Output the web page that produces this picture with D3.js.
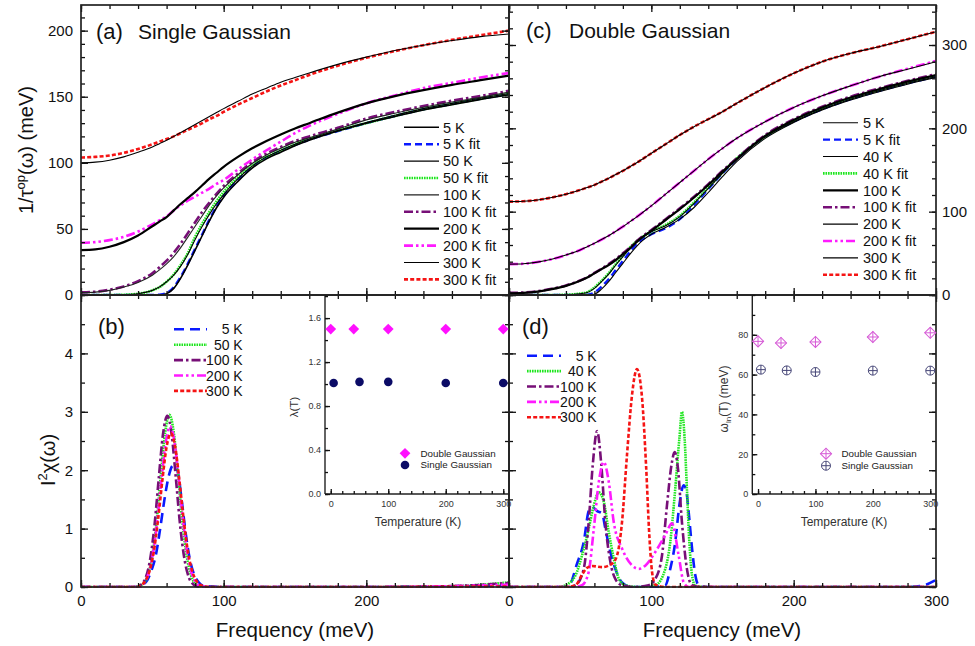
<!DOCTYPE html>
<html>
<head>
<meta charset="utf-8">
<script src="https://cdn.jsdelivr.net/npm/d3@7"></script>
<style>
    body { margin: 0; background: #fff; }
    svg { font-family: "Liberation Sans", Arial, Helvetica, sans-serif; }
</style>
</head>
<body>
<svg id="chart" width="975" height="646"></svg>
<script>
    // ---- data ----
    // (a)/(c): 1/tau_op(omega) on a common frequency grid (meV)
    const freqGrid = [0, 10, 20, 30, 40, 50, 55, 60, 65, 70, 75, 80, 85, 90, 95, 100, 110, 120, 130, 140, 150, 160, 180, 200, 220, 240, 260, 280, 300];

    const a5K = [0, 0, 0, 0, 0, 0, 0, 1, 5, 13, 23, 34, 45, 56, 66, 74, 86, 96, 103, 108, 113, 117, 124, 130, 135, 140, 144, 148, 151.5];
    const a5Kfit = [0, 0, 0, 0, 0, 0, 0.3, 1.5, 6, 14, 24, 35, 46, 57, 67, 75, 87, 97, 104, 109, 113.5, 117.5, 124, 130, 135.5, 140.5, 144.5, 148.5, 152];
    const a50K = [0, 0, 0, 0.2, 1, 3.5, 6, 10, 15, 22, 31, 42, 52, 61, 69, 76, 88, 97.5, 104.5, 109.5, 114, 118, 124.5, 130.5, 136, 141, 145, 149, 152.5];
    const a50Kfit = [0, 0, 0, 0.2, 1, 3.5, 6, 10, 15.5, 23, 32, 44, 54, 63, 71, 78, 89, 98, 104.5, 109.5, 114, 118, 124.5, 130, 135.5, 140.5, 144.5, 148.5, 152];
    const a100K = [1.8, 2.2, 3.5, 6, 9.5, 15, 19, 23.5, 29, 36, 44, 52, 60, 68, 75, 81, 91, 99.5, 106, 111, 115.5, 119, 125.5, 132.5, 137.5, 142, 146, 149.5, 153.5];
    const a100Kfit = [2, 2.5, 4, 6.5, 10.5, 16.5, 21, 26, 32, 39, 47, 55, 63, 70, 76.5, 82.5, 92, 100.5, 107, 112, 116.5, 120, 126.5, 133.5, 138.5, 143, 147, 150.5, 154.5];
    const a200K = [34, 34.5, 36.5, 40, 45, 52, 55.5, 59, 64, 69, 73.5, 78, 83, 88, 92.5, 97, 104.5, 111, 116.5, 121.5, 126, 130, 138, 145, 150.5, 155, 159, 162.5, 166];
    const a200Kfit = [39.5, 40, 41.5, 44, 48, 53.5, 56.5, 59.5, 64, 68, 71.5, 74.5, 77.5, 80.5, 84, 87, 95, 102.5, 109.5, 116, 122.5, 128, 137, 145, 151, 156.5, 160.5, 164.5, 168];
    const a300K = [100, 100.5, 102, 104.5, 108, 112, 114.5, 117, 120, 123, 126, 129, 132, 135, 138, 141, 146.5, 152, 156.5, 161, 164.5, 168, 174.5, 180, 185, 189, 192.5, 195.5, 197.5];
    const a300Kfit = [104, 104.5, 105.5, 107.5, 110.5, 114, 116, 118, 120, 122.5, 125, 127.5, 130, 133, 135.5, 138.5, 144, 149, 154, 158.5, 162.5, 166.5, 173.5, 179.5, 184.5, 189, 193, 196.5, 200];

    const c5K = [0, 0, 0, 0, 0, 0, 0, 1, 7, 16, 27, 38, 49, 59, 67, 73, 81, 91, 105, 123, 142, 160, 188, 207, 222, 234, 244, 253, 261];
    const c5Kfit = [0, 0, 0, 0, 0, 0, 0.5, 3, 10, 19, 30, 41, 52, 62, 68, 73, 80, 91, 108, 127, 146, 163, 190, 208, 223, 235, 245, 254, 262];
    const c40K = [0, 0, 0, 0, 0.3, 1.5, 3, 8, 16, 25, 36, 46, 56, 65, 71, 76, 83, 94, 110, 128, 146, 163, 190, 208, 223, 235, 245, 254, 262];
    const c40Kfit = [0, 0, 0, 0, 0.3, 1.8, 3.5, 9, 17, 26, 37, 47, 57, 65, 71, 76, 84, 95, 111, 129, 147, 164, 190, 209, 224, 236, 246, 255, 263];
    const c100K = [2, 2.5, 4, 7, 11, 17, 21, 26, 31, 36, 42, 49, 56, 64, 71, 77, 90, 103, 117, 132, 148, 163, 191, 210, 225, 237, 247, 256, 264];
    const c100Kfit = [2.5, 3, 4.5, 7.5, 11.5, 17.5, 21.5, 26.5, 31.5, 37, 43, 50, 57, 65, 72, 78, 91, 104, 118, 133, 149, 164, 192, 211, 226, 238, 248, 257, 265];
    const c200K = [37, 37.5, 39.5, 43, 48, 54, 58, 62, 66.5, 71, 76.5, 82, 88, 94, 100.5, 107, 121, 135, 149, 163, 176, 188, 208, 225, 239, 251, 262, 271, 280];
    const c200Kfit = [37, 37.5, 39.5, 43, 48, 54, 58, 62, 66.5, 71, 76.5, 82, 88, 94, 100.5, 107, 121, 135, 149, 163, 176, 188, 208, 225, 239, 251, 262, 271.5, 281];
    const c300K = [112, 112.5, 114, 117, 121, 126, 129, 132, 136, 140, 144.5, 149, 154, 159, 164.5, 170, 181, 192, 202, 211, 220, 230, 249, 266, 280, 290, 298, 307, 316];
    const c300Kfit = [112, 112.5, 114, 117, 121, 126, 129, 132, 136, 140, 144.5, 149, 154, 159, 164.5, 170, 181, 192, 202, 211, 220, 230, 249, 266, 280, 290, 298, 307, 316];

    // (b): single Gaussian I^2 chi(omega)
    const b5KFreq = [0, 40, 43.5, 46.5, 49.5, 52.5, 55.5, 58.5, 61.5, 64.5, 67.5, 70.5, 73.5, 76.5, 79.5, 82.5, 86, 100, 200, 300];
    const b5KVal = [0, 0, 0.04, 0.12, 0.29, 0.55, 1.0, 1.5, 1.9, 2.08, 2.0, 1.5, 0.9, 0.45, 0.2, 0.08, 0.02, 0, 0, 0.02];
    const b50KFreq = [0, 38, 41, 44, 47, 50, 53, 56, 59, 62, 65, 68, 71, 74, 77, 80, 83, 90, 200, 250, 275, 300];
    const b50KVal = [0, 0, 0.02, 0.06, 0.21, 0.54, 1.13, 1.93, 2.65, 2.95, 2.65, 1.93, 1.13, 0.54, 0.21, 0.06, 0.02, 0, 0, 0.01, 0.03, 0.08];
    const b100KFreq = [0, 39.5, 42.5, 45.5, 48.5, 51.5, 54.5, 57.5, 60.5, 63.5, 66.5, 69.5, 72.5, 75.5, 78.5, 81.5, 90, 200, 250, 275, 300];
    const b100KVal = [0, 0, 0.05, 0.17, 0.48, 1.05, 1.86, 2.62, 2.93, 2.62, 1.86, 1.05, 0.48, 0.17, 0.05, 0.01, 0, 0, 0.01, 0.03, 0.07];
    const b200KFreq = [0, 41.5, 44.5, 47.5, 50.5, 53.5, 56.5, 59.5, 62.5, 65.5, 68.5, 71.5, 74.5, 77.5, 80.5, 83.5, 90, 200, 250, 300];
    const b200KVal = [0, 0, 0.08, 0.24, 0.58, 1.14, 1.86, 2.49, 2.75, 2.49, 1.86, 1.14, 0.58, 0.24, 0.08, 0.02, 0, 0, 0.01, 0.04];
    const b300KFreq = [0, 39, 42, 45, 48, 51, 54, 57, 60, 63, 66, 69, 72, 75, 78, 81, 84, 90, 200, 300];
    const b300KVal = [0, 0, 0.03, 0.10, 0.27, 0.60, 1.15, 1.82, 2.40, 2.63, 2.40, 1.82, 1.15, 0.60, 0.27, 0.10, 0.03, 0, 0, 0.01];

    // (d): double Gaussian I^2 chi(omega)
    const d5KFreq = [0, 38, 42, 47.8, 52.5, 56, 58.4, 61.9, 65.4, 67.7, 71.2, 74.7, 79.4, 86.4, 100, 109.8, 113.3, 116.8, 119.7, 122.7, 124.3, 126.2, 128.6, 130.9, 133.3, 140, 280, 290, 300];
    const d5KVal = [0, 0, 0.02, 0.4, 0.77, 1.3, 1.37, 1.3, 1.26, 1.0, 0.6, 0.31, 0.08, 0, 0, 0.03, 0.31, 0.77, 1.4, 1.74, 1.68, 1.29, 0.66, 0.2, 0.03, 0, 0, 0.02, 0.12];
    const d40KFreq = [0, 35, 39.7, 46.7, 51.3, 56, 59.6, 63.1, 66.6, 70.1, 73.6, 77.2, 81.8, 91.2, 102.8, 109.8, 113.3, 116.8, 119.7, 121.5, 123.4, 125, 126.7, 128.6, 130.9, 140, 300];
    const d40KVal = [0, 0, 0.03, 0.2, 0.54, 1.0, 1.4, 1.62, 1.46, 0.94, 0.49, 0.14, 0.03, 0, 0.03, 0.31, 0.77, 1.68, 2.54, 3.0, 2.54, 1.68, 0.77, 0.2, 0.02, 0, 0];
    const d100KFreq = [0, 42, 46.7, 52.5, 56, 58.8, 61.9, 64.9, 67.7, 71.2, 74.7, 79.4, 88.8, 98.1, 102.8, 107.5, 111, 114.1, 116.4, 118.7, 121.5, 125, 128.6, 135, 300];
    const d100KVal = [0, 0, 0.03, 0.31, 1.11, 2.08, 2.67, 2.08, 1.11, 0.43, 0.14, 0.03, 0, 0.03, 0.14, 0.54, 1.4, 2.08, 2.31, 2.03, 1.11, 0.31, 0.03, 0, 0];
    const d200KFreq = [0, 46, 51.3, 56, 59.6, 63.1, 66.6, 70.1, 73.6, 79.4, 86.4, 91.2, 95.9, 102.8, 109.8, 114.5, 119.2, 122.7, 126.2, 135, 300];
    const d200KVal = [0, 0, 0.03, 0.26, 1.0, 1.8, 2.14, 1.8, 1.11, 0.66, 0.37, 0.31, 0.37, 0.6, 0.89, 1.09, 0.54, 0.08, 0, 0, 0];
    const d300KFreq = [0, 35, 39.7, 46.7, 51.3, 54.9, 58.4, 65.4, 72.4, 75.9, 79.4, 82.9, 86.4, 89.9, 93.5, 96.3, 98.6, 100.5, 102.8, 110, 300];
    const d300KVal = [0, 0, 0, 0.03, 0.21, 0.33, 0.36, 0.34, 0.40, 0.54, 1.11, 2.26, 3.28, 3.73, 3.23, 2.08, 0.88, 0.26, 0.04, 0, 0];

    // insets
    const tempDouble = [0, 40, 100, 200, 300];
    const tempSingle = [5, 50, 100, 200, 300];
    const lambdaDouble = [1.5, 1.5, 1.5, 1.5, 1.5];
    const lambdaSingle = [1.01, 1.02, 1.02, 1.01, 1.01];
    const omegaDouble = [76.7, 75.9, 76.4, 78.9, 81.0];
    const omegaSingle = [62.5, 62.1, 61.3, 62.0, 62.0];

    // ---- layout ----
    const L = 81, M = 509, R = 936, T = 5, MID = 295, B = 587;
    const svg = d3.select("#chart");

    const xA = d3.scaleLinear([0, 300], [L, M]);
    const xC = d3.scaleLinear([0, 300], [M, R]);
    const yA = d3.scaleLinear([0, 219.4], [MID, T]);
    const yC = d3.scaleLinear([0, 348], [MID, T]);
    const yB = d3.scaleLinear([0, 5], [B, MID]);
    const xIB = d3.scaleLinear([-10, 310], [325, M]);
    const yIB = d3.scaleLinear([0, 1.81], [494, MID]);
    const xID = d3.scaleLinear([-10, 310], [752.3, R]);
    const yID = d3.scaleLinear([0, 100], [494, MID]);

    // line styles
    const blk = w => ({ color: "#000", width: w });
    const BLUE = { color: "#0a1aff", width: 2.4, dash: "7,4" };
    const BLUE2 = { color: "#0a1aff", width: 2.6, dash: "10,6" };
    const GREEN = { color: "#1ee61e", width: 2.6, dash: "1.6,0.9" };
    const PURPLE = { color: "#770f77", width: 2.6, dash: "9,3,2.5,3" };
    const MAGENTA = { color: "#ff1aff", width: 2.6, dash: "9,3,2.5,3,2.5,3" };
    const RED = { color: "#f51414", width: 2.6, dash: "4,2.2" };

    const seriesA = [
        { label: "5 K", v: a5K, st: blk(1.6) },
        { label: "5 K fit", v: a5Kfit, st: BLUE },
        { label: "50 K", v: a50K, st: blk(1.1) },
        { label: "50 K fit", v: a50Kfit, st: GREEN },
        { label: "100 K", v: a100K, st: { color: "#222", width: 1.1 } },
        { label: "100 K fit", v: a100Kfit, st: PURPLE },
        { label: "200 K", v: a200K, st: blk(2.2) },
        { label: "200 K fit", v: a200Kfit, st: MAGENTA },
        { label: "300 K", v: a300K, st: blk(1.1) },
        { label: "300 K fit", v: a300Kfit, st: RED }
    ];
    const seriesC = [
        { label: "5 K", v: c5K, st: blk(1.1) },
        { label: "5 K fit", v: c5Kfit, st: BLUE },
        { label: "40 K", v: c40K, st: blk(1.1) },
        { label: "40 K fit", v: c40Kfit, st: GREEN },
        { label: "100 K", v: c100K, st: blk(2.2) },
        { label: "100 K fit", v: c100Kfit, st: PURPLE },
        { label: "200 K", v: c200K, st: blk(1.1) },
        { label: "200 K fit", v: c200Kfit, st: MAGENTA },
        { label: "300 K", v: c300K, st: blk(1.1) },
        { label: "300 K fit", v: c300Kfit, st: RED }
    ];
    const seriesB = [
        { label: "5 K", f: b5KFreq, v: b5KVal, st: BLUE2 },
        { label: "50 K", f: b50KFreq, v: b50KVal, st: GREEN },
        { label: "100 K", f: b100KFreq, v: b100KVal, st: PURPLE },
        { label: "200 K", f: b200KFreq, v: b200KVal, st: MAGENTA },
        { label: "300 K", f: b300KFreq, v: b300KVal, st: RED }
    ];
    const seriesD = [
        { label: "5 K", f: d5KFreq, v: d5KVal, st: BLUE2 },
        { label: "40 K", f: d40KFreq, v: d40KVal, st: GREEN },
        { label: "100 K", f: d100KFreq, v: d100KVal, st: PURPLE },
        { label: "200 K", f: d200KFreq, v: d200KVal, st: MAGENTA },
        { label: "300 K", f: d300KFreq, v: d300KVal, st: RED }
    ];

    const defs = svg.append("defs");
    function clipRect(id, x0, y0, x1, y1) {
        defs.append("clipPath").attr("id", id).append("rect")
            .attr("x", x0).attr("y", y0).attr("width", x1 - x0).attr("height", y1 - y0);
    }
    clipRect("clipA", L, T, M, MID + 1);
    clipRect("clipC", M, T, R, MID + 1);
    clipRect("clipB", L, MID, M, B + 1);
    clipRect("clipD", M, MID, R, B + 1);

    function styled(sel, st) {
        return sel.attr("fill", "none")
            .attr("stroke", st.color)
            .attr("stroke-width", st.width)
            .attr("stroke-dasharray", st.dash || null);
    }

    function drawCurve(g, xs, ys, f, v, st) {
        const line = d3.line()
            .x(d => xs(d[0]))
            .y(d => ys(d[1]))
            .curve(d3.curveMonotoneX);
        styled(g.append("path").datum(d3.zip(f, v)), st).attr("d", line);
    }

    // panels (a) and (c): fits below, black data on top
    [[seriesA, xA, yA, "clipA"], [seriesC, xC, yC, "clipC"]].forEach(([ser, xs, ys, cp]) => {
        const g = svg.append("g").attr("clip-path", `url(#${cp})`);
        ser.filter(s => s.st.dash).forEach(s => drawCurve(g, xs, ys, freqGrid, s.v, s.st));
        ser.filter(s => !s.st.dash).forEach(s => drawCurve(g, xs, ys, freqGrid, s.v, s.st));
    });
    [[seriesB, xA, "clipB"], [seriesD, xC, "clipD"]].forEach(([ser, xs, cp]) => {
        const g = svg.append("g").attr("clip-path", `url(#${cp})`);
        ser.forEach(s => drawCurve(g, xs, yB, s.f, s.v, s.st));
    });

    // ---- axes ----
    function axis(gen, tx, ty, vals, size, fmt, pad, fs) {
        const g = svg.append("g")
            .attr("transform", `translate(${tx},${ty})`)
            .call(gen.tickValues(vals).tickSize(size).tickPadding(pad || 6).tickFormat(fmt || (() => "")));
        g.select(".domain").remove();
        g.selectAll("line").attr("stroke", "#111").attr("stroke-width", 1.3);
        g.selectAll("text").attr("font-size", fs || 15).attr("fill", "#111")
            .attr("font-family", "'Liberation Sans', Arial, sans-serif");
        return g;
    }
    const fmt0 = d3.format("d");
    const xMajor = [0, 100, 200, 300];
    const xMinor = d3.range(0, 301, 20);

    function xAxes(xs, yTop, yBot, labels) {
        axis(d3.axisTop(xs), 0, yTop, xMajor, -7);
        axis(d3.axisTop(xs), 0, yTop, xMinor, -4);
        axis(d3.axisBottom(xs), 0, yBot, labels || xMajor, -7, labels ? fmt0 : null, 8);
        axis(d3.axisBottom(xs), 0, yBot, xMinor, -4);
    }
    xAxes(xA, T, MID);
    xAxes(xC, T, MID);
    xAxes(xA, MID, B, [0, 100, 200]);
    xAxes(xC, MID, B, [0, 100, 200, 300]);

    // (a) y
    axis(d3.axisLeft(yA), L, 0, [0, 50, 100, 150, 200], -7, fmt0, 8);
    axis(d3.axisLeft(yA), L, 0, d3.range(0, 220, 10), -4);
    axis(d3.axisRight(yA), M, 0, [0, 50, 100, 150, 200], -7);
    axis(d3.axisRight(yA), M, 0, d3.range(0, 220, 10), -4);
    // (c) y
    axis(d3.axisLeft(yC), M, 0, [0, 100, 200, 300], -7);
    axis(d3.axisLeft(yC), M, 0, d3.range(0, 348, 20), -4);
    axis(d3.axisRight(yC), R, 0, [0, 100, 200, 300], -7, fmt0, 6);
    axis(d3.axisRight(yC), R, 0, d3.range(0, 348, 20), -4);
    // (b) y
    axis(d3.axisLeft(yB), L, 0, [0, 1, 2, 3, 4], -7, fmt0, 8);
    axis(d3.axisLeft(yB), L, 0, d3.range(0, 5.01, 0.5), -4);
    axis(d3.axisRight(yB), M, 0, [0, 1, 2, 3, 4, 5], -7);
    axis(d3.axisRight(yB), M, 0, d3.range(0, 5.01, 0.5), -4);
    // (d) y
    axis(d3.axisLeft(yB), M, 0, [0, 1, 2, 3, 4, 5], -7);
    axis(d3.axisLeft(yB), M, 0, d3.range(0, 5.01, 0.5), -4);
    axis(d3.axisRight(yB), R, 0, [0, 1, 2, 3, 4, 5], -7);
    axis(d3.axisRight(yB), R, 0, d3.range(0, 5.01, 0.5), -4);

    // frames
    [[L, T, M, MID], [M, T, R, MID], [L, MID, M, B], [M, MID, R, B]].forEach(([x0, y0, x1, y1]) => {
        svg.append("rect").attr("x", x0).attr("y", y0).attr("width", x1 - x0).attr("height", y1 - y0)
            .attr("fill", "none").attr("stroke", "#222").attr("stroke-width", 1.7);
    });

    // ---- legends ----
    function legend(ser, x1, x2, tx, y0, step, anchor, fs) {
        const g = svg.append("g");
        ser.forEach((s, i) => {
            const y = y0 + i * step;
            styled(g.append("line").attr("x1", x1).attr("x2", x2).attr("y1", y).attr("y2", y), s.st);
            g.append("text").attr("x", tx).attr("y", y).attr("dy", "0.36em")
                .attr("text-anchor", anchor).attr("font-size", fs).attr("fill", "#111").text(s.label);
        });
    }
    legend(seriesA, 404, 439, 443, 127.3, 16.9, "start", 14.5);
    legend(seriesC, 823, 858, 863, 122.7, 16.9, "start", 14.5);
    legend(seriesB, 174, 207, 242.7, 329.3, 15.4, "end", 14);
    legend(seriesD, 527, 561, 596.7, 355.7, 15.4, "end", 14);

    // ---- panel titles & axis titles ----
    function label(x, y, txt, fs, anchor) {
        return svg.append("text").attr("x", x).attr("y", y).attr("font-size", fs)
            .attr("text-anchor", anchor || "start").attr("fill", "#111").text(txt);
    }
    label(96, 38.5, "(a)", 22);
    label(138, 38.5, "Single Gaussian", 21);
    label(526, 38, "(c)", 22);
    label(569, 38, "Double Gaussian", 21);
    label(98, 334, "(b)", 22);
    label(522, 334, "(d)", 22);
    label(295, 637, "Frequency (meV)", 20.5, "middle");
    label(722, 637, "Frequency (meV)", 20.5, "middle");

    const yt1 = svg.append("text").attr("transform", "translate(33,150) rotate(-90)")
        .attr("text-anchor", "middle").attr("font-size", 20).attr("fill", "#111");
    yt1.append("tspan").text("1/τ");
    yt1.append("tspan").attr("dy", -8).attr("font-size", 13).text("op");
    yt1.append("tspan").attr("dy", 8).text("(ω) (meV)");

    const yt2 = svg.append("text").attr("transform", "translate(55,460) rotate(-90)")
        .attr("text-anchor", "middle").attr("font-size", 20).attr("fill", "#111");
    yt2.append("tspan").text("I");
    yt2.append("tspan").attr("dy", -8).attr("font-size", 13).text("2");
    yt2.append("tspan").attr("dy", 8).text("χ(ω)");

    // ---- insets ----
    function insetAxes(xs, ys, yMajor, yMinor, yFmt, x0) {
        svg.append("line").attr("x1", x0).attr("x2", x0).attr("y1", MID).attr("y2", 494)
            .attr("stroke", "#222").attr("stroke-width", 1.4);
        svg.append("line").attr("x1", x0).attr("x2", xs.range()[1]).attr("y1", 494).attr("y2", 494)
            .attr("stroke", "#222").attr("stroke-width", 1.4);
        axis(d3.axisLeft(ys), x0, 0, yMajor, -5, yFmt, 4, 9).selectAll("text").attr("fill", "#333");
        axis(d3.axisLeft(ys), x0, 0, yMinor, -3);
        axis(d3.axisBottom(xs), 0, 494, [0, 100, 200, 300], -5, fmt0, 6.5, 9).selectAll("text").attr("fill", "#333");
        axis(d3.axisBottom(xs), 0, 494, d3.range(0, 301, 20), -3);
    }
    insetAxes(xIB, yIB, [0, 0.4, 0.8, 1.2, 1.6], d3.range(0, 1.81, 0.2), d3.format(".1f"), 325);
    insetAxes(xID, yID, [0, 20, 40, 60, 80], d3.range(0, 101, 10), fmt0, 752.3);

    const diamond = d3.symbol(d3.symbolSquare, 58)();
    const openDiamond = d3.symbol(d3.symbolSquare, 62)();

    function filledDiamond(g, x, y) {
        g.append("path").attr("d", diamond).attr("transform", `translate(${x},${y}) rotate(45)`)
            .attr("fill", "#ff10ff");
    }
    function filledDot(g, x, y) {
        g.append("circle").attr("cx", x).attr("cy", y).attr("r", 4.3).attr("fill", "#0b0b66");
    }
    function crossDiamond(g, x, y) {
        const c = "#d65ad6";
        g.append("path").attr("d", openDiamond).attr("transform", `translate(${x},${y}) rotate(45)`)
            .attr("fill", "none").attr("stroke", c).attr("stroke-width", 1);
        g.append("path").attr("d", `M${x - 5.5},${y}H${x + 5.5}M${x},${y - 5.5}V${y + 5.5}`)
            .attr("stroke", c).attr("stroke-width", 1);
    }
    function crossDot(g, x, y) {
        const c = "#474778";
        g.append("circle").attr("cx", x).attr("cy", y).attr("r", 4.5)
            .attr("fill", "none").attr("stroke", c).attr("stroke-width", 1);
        g.append("path").attr("d", `M${x - 4.5},${y}H${x + 4.5}M${x},${y - 4.5}V${y + 4.5}`)
            .attr("stroke", c).attr("stroke-width", 1);
    }

    const gIB = svg.append("g");
    tempDouble.forEach((t, i) => filledDiamond(gIB, xIB(t), yIB(lambdaDouble[i])));
    tempSingle.forEach((t, i) => filledDot(gIB, xIB(t), yIB(lambdaSingle[i])));
    const gID = svg.append("g");
    tempDouble.forEach((t, i) => crossDiamond(gID, xID(t), yID(omegaDouble[i])));
    tempSingle.forEach((t, i) => crossDot(gID, xID(t), yID(omegaSingle[i])));

    // inset legends
    filledDiamond(gIB, 405, 453.3);
    filledDot(gIB, 405, 465);
    label(420.5, 453.3, "Double Gaussian", 9.8).attr("dy", "0.35em").attr("fill", "#222");
    label(420.5, 465, "Single Gaussian", 9.8).attr("dy", "0.35em").attr("fill", "#222");
    crossDiamond(gID, 826, 453.7);
    crossDot(gID, 826, 465.7);
    label(841.5, 453.7, "Double Gaussian", 9.8).attr("dy", "0.35em").attr("fill", "#222");
    label(841.5, 465.7, "Single Gaussian", 9.8).attr("dy", "0.35em").attr("fill", "#222");

    // inset titles
    label(418, 526, "Temperature (K)", 12, "middle").attr("fill", "#333");
    label(844, 526, "Temperature (K)", 12, "middle").attr("fill", "#333");
    svg.append("text").attr("transform", "translate(298,407) rotate(-90)")
        .attr("text-anchor", "middle").attr("font-size", 11.5).attr("fill", "#333").text("λ(T)");
    const yt3 = svg.append("text").attr("transform", "translate(728,399) rotate(-90)")
        .attr("text-anchor", "middle").attr("font-size", 12).attr("fill", "#333");
    yt3.append("tspan").text("ω");
    yt3.append("tspan").attr("dy", 3).attr("font-size", 8).text("ln");
    yt3.append("tspan").attr("dy", -3).text("(T) (meV)");
</script>
</body>
</html>
